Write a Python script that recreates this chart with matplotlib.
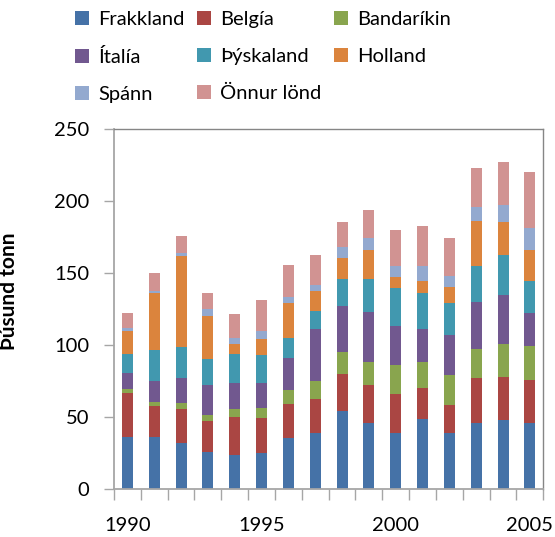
import numpy as np
import matplotlib
matplotlib.use("Agg")
import matplotlib.pyplot as plt
from matplotlib.ticker import FixedLocator

plt.rcParams['font.family'] = ['Lato', 'DejaVu Sans']

years = list(range(1990, 2006))

# þúsund tonn
frakkland = [36.4, 36.4, 32.2, 26.2, 23.9, 25.5, 35.9, 39.2, 54.5, 46.1, 39.0, 48.7, 39.0, 45.9, 48.2, 45.9]
belgia = [30.6, 21.6, 23.7, 21.3, 26.4, 24.3, 23.5, 23.6, 25.7, 26.5, 27.3, 21.8, 19.5, 31.3, 29.7, 30.2]
bandarikin = [2.8, 2.8, 4.2, 4.2, 5.6, 6.8, 9.7, 12.6, 15.3, 16.0, 20.2, 17.9, 20.8, 20.0, 22.7, 23.1]
italia = [10.9, 14.6, 17.4, 20.9, 18.1, 17.4, 22.1, 35.7, 31.6, 34.3, 26.7, 23.1, 28.1, 33.1, 34.6, 23.0]
thyskaland = [13.2, 21.3, 21.3, 18.1, 19.9, 19.2, 13.9, 12.5, 19.2, 23.4, 26.9, 25.1, 22.2, 25.1, 27.6, 22.7]
holland = [16.0, 39.9, 63.0, 29.4, 7.0, 11.2, 24.5, 13.9, 14.0, 20.2, 7.6, 8.3, 11.2, 31.1, 23.0, 21.6]
spann = [1.9, 1.4, 2.6, 5.2, 4.2, 5.3, 4.2, 4.7, 8.1, 7.7, 7.7, 10.5, 7.6, 9.5, 11.6, 15.3]
onnur = [10.4, 12.5, 11.2, 10.8, 16.4, 21.5, 22.3, 20.8, 17.4, 19.5, 24.8, 27.6, 26.3, 26.9, 29.7, 38.5]

series = [
    ("Frakkland", frakkland, "#4572A7"),
    ("Belgía", belgia, "#AA4643"),
    ("Bandaríkin", bandarikin, "#89A54E"),
    ("Ítalía", italia, "#71588F"),
    ("Þýskaland", thyskaland, "#4198AF"),
    ("Holland", holland, "#DB843D"),
    ("Spánn", spann, "#93A9CF"),
    ("Önnur lönd", onnur, "#D19392"),
]

fig = plt.figure(figsize=(5.55, 5.37), dpi=100)
ax = fig.add_axes([0.2054, 0.0888, 0.7735, 0.6704])

bottom = np.zeros(len(years))
handles = {}
for name, vals, col in series:
    b = ax.bar(years, vals, width=0.41, bottom=bottom, color=col, label=name, zorder=2)
    handles[name] = b
    bottom += np.array(vals)

ax.set_xlim(1989.5, 2005.5)
ax.set_ylim(0, 250)
ax.set_yticks(range(0, 251, 50))
ax.set_xticks([1990, 1995, 2000, 2005])
ax.xaxis.set_minor_locator(FixedLocator(np.arange(1989.5, 2006, 1)))
ax.tick_params(axis='x', which='major', length=0, pad=20, labelsize=14.5)
ax.tick_params(axis='x', which='minor', length=8, width=1, color='#a6a6a6', direction='out')
ax.tick_params(axis='y', length=7, width=1, color='#a6a6a6', direction='out', pad=11, labelsize=14.5)

for side in ['left', 'bottom']:
    ax.spines[side].set_color('#a6a6a6')
    ax.spines[side].set_linewidth(1.3)
for side in ['top', 'right']:
    ax.spines[side].set_color('#868686')
    ax.spines[side].set_linewidth(1.0)

ax.set_ylabel('Þúsund tonn', fontsize=15, fontweight='bold')
ax.yaxis.set_label_coords(-0.221, 0.551)

order = ["Frakkland", "Ítalía", "Spánn", "Belgía", "Þýskaland", "Önnur lönd", "Bandaríkin", "Holland"]
fig.legend([handles[n] for n in order], order, ncol=3, loc='upper left',
           bbox_to_anchor=(0.103, 1.013), frameon=False, fontsize=14.5,
           handlelength=0.7, handleheight=0.7, handletextpad=0.45,
           columnspacing=0.62, labelspacing=0.98)

fig.savefig('out.png', dpi=100)
